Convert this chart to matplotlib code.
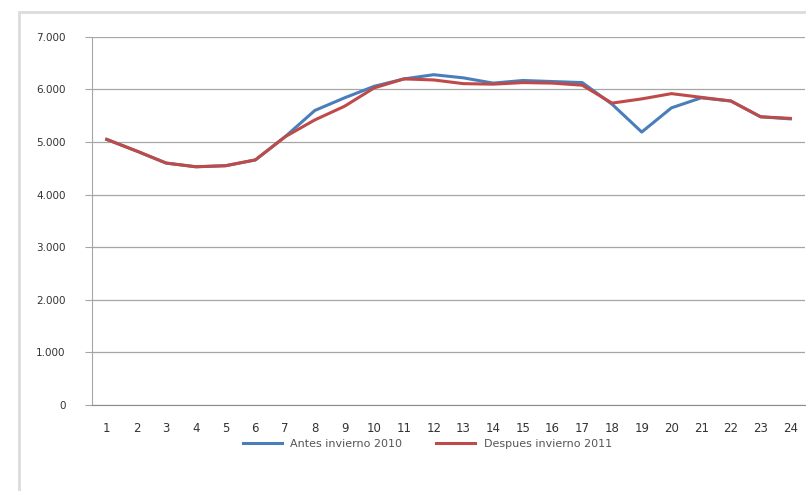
import matplotlib.pyplot as plt
from matplotlib.ticker import FuncFormatter

# hourly load, before and after winter
horas = list(range(1, 25))
antes = [5050, 4830, 4600, 4530, 4550, 4660, 5100, 5600, 5840, 6060, 6200, 6280,
         6220, 6120, 6170, 6150, 6130, 5720, 5190, 5650, 5840, 5780, 5480, 5440]
despues = [5050, 4830, 4600, 4530, 4550, 4660, 5100, 5420, 5680, 6030, 6200, 6180,
           6110, 6100, 6130, 6120, 6080, 5740, 5820, 5920, 5850, 5780, 5480, 5450]
etiquetas = ["Antes invierno 2010", "Despues invierno 2011"]

fig = plt.figure(figsize=(8.06, 4.91), dpi=100)
ax = fig.add_axes([0.114, 0.175, 0.885, 0.75])

ax.plot(horas, antes, color="#4a7ebb", lw=2.2, label=etiquetas[0])
ax.plot(horas, despues, color="#be4b48", lw=2.2, label=etiquetas[1])

ax.set_xlim(0.5, 24.5)
ax.set_ylim(0, 7000)
ax.set_xticks(horas)
ax.set_yticks(range(0, 7001, 1000))
ax.yaxis.set_major_formatter(FuncFormatter(lambda v, p: f"{int(v):,}".replace(",", ".")))
ax.grid(axis="y", color="#a6a6a6", lw=0.9)
ax.set_axisbelow(True)

for s in ["top", "right"]:
    ax.spines[s].set_visible(False)
ax.spines["left"].set_color("#a6a6a6")
ax.spines["bottom"].set_color("#8c8c8c")
ax.tick_params(axis="y", length=5, color="#a6a6a6", pad=14, labelsize=7.5, labelcolor="#333333")
ax.tick_params(axis="x", length=0, pad=12, labelsize=8.5, labelcolor="#333333")

ax.legend(loc="upper center", bbox_to_anchor=(0.47, -0.065), ncol=2, frameon=False,
          fontsize=8, labelcolor="#555555", handlelength=3.5, columnspacing=3)

# light chart-area frame
fig.patches.append(plt.Rectangle((0.023, -0.05), 1.1, 1.025, transform=fig.transFigure,
                                 fill=False, ec="#dcdcdc", lw=2))
fig.savefig("out.png", dpi=100)
